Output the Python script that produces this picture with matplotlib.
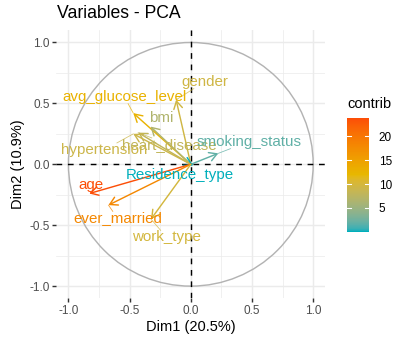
import numpy as np
import matplotlib
matplotlib.use("Agg")
import matplotlib.pyplot as plt
from matplotlib.cm import ScalarMappable
from matplotlib.colors import ListedColormap, Normalize, to_rgb
from matplotlib.patches import Circle, FancyArrowPatch

plt.rcParams['font.family'] = ['Liberation Sans', 'DejaVu Sans']
plt.rcParams['axes.unicode_minus'] = False

# Variable coordinates on the first two principal components
variables = ["gender", "avg_glucose_level", "bmi", "heart_disease", "hypertension",
             "smoking_status", "Residence_type", "age", "ever_married", "work_type"]
dim1 = [-0.12, -0.47, -0.33, -0.43, -0.47, 0.225, 0.02, -0.83, -0.673, -0.325]
dim2 = [0.53, 0.42, 0.31, 0.26, 0.25, 0.09, -0.01, -0.24, -0.335, -0.45]
explained = [20.5, 10.9]  # % of variance per dimension

# Where each (repelled) label ends up, centre of the text
label_pos = {
    "gender": (0.116, 0.679),
    "avg_glucose_level": (-0.544, 0.555),
    "bmi": (-0.245, 0.378),
    "heart_disease": (-0.172, 0.159),
    "hypertension": (-0.707, 0.118),
    "smoking_status": (0.473, 0.186),
    "Residence_type": (-0.086, -0.088),
    "age": (-0.819, -0.170),
    "ever_married": (-0.598, -0.444),
    "work_type": (-0.197, -0.600),
}

gradient_cols = ["#00AFBB", "#E7B800", "#FC4E07"]

# contribution (%) of each variable to the Dim1-Dim2 plane
eig = np.array(explained) / 100 * len(variables)
coords = np.column_stack([dim1, dim2])
contrib = 100 * (coords ** 2).sum(axis=1) / eig.sum()


def srgb_to_lab(rgb):
    rgb = np.asarray(rgb, float)
    lin = np.where(rgb <= 0.04045, rgb / 12.92, ((rgb + 0.055) / 1.055) ** 2.4)
    m = np.array([[0.4124, 0.3576, 0.1805], [0.2126, 0.7152, 0.0722], [0.0193, 0.1192, 0.9505]])
    xyz = lin @ m.T / np.array([0.95047, 1.0, 1.08883])
    d = 6 / 29
    f = np.where(xyz > d ** 3, np.cbrt(xyz), xyz / (3 * d ** 2) + 4 / 29)
    return np.stack([116 * f[..., 1] - 16, 500 * (f[..., 0] - f[..., 1]),
                     200 * (f[..., 1] - f[..., 2])], -1)


def lab_to_srgb(lab):
    d = 6 / 29
    fy = (lab[..., 0] + 16) / 116
    f = np.stack([fy + lab[..., 1] / 500, fy, fy - lab[..., 2] / 200], -1)
    xyz = np.where(f > d, f ** 3, 3 * d ** 2 * (f - 4 / 29)) * np.array([0.95047, 1.0, 1.08883])
    m_inv = np.linalg.inv(np.array([[0.4124, 0.3576, 0.1805], [0.2126, 0.7152, 0.0722],
                                    [0.0193, 0.1192, 0.9505]]))
    lin = xyz @ m_inv.T
    rgb = np.where(lin <= 0.0031308, lin * 12.92, 1.055 * np.clip(lin, 0, None) ** (1 / 2.4) - 0.055)
    return np.clip(rgb, 0, 1)


# three-colour gradient interpolated in Lab space
anchors = srgb_to_lab([to_rgb(c) for c in gradient_cols])
t = np.linspace(0, 1, 256)
stops = np.linspace(0, 1, len(gradient_cols))
lab = np.column_stack([np.interp(t, stops, anchors[:, k]) for k in range(3)])
cmap = ListedColormap(lab_to_srgb(lab))
norm = Normalize(vmin=contrib.min(), vmax=contrib.max())
colors = [cmap(norm(v)) for v in contrib]

W, H = 407, 342
fig = plt.figure(figsize=(W / 96, H / 96), dpi=96)
ax = fig.add_axes([56.2 / W, 43.7 / H, 269.2 / W, 268 / H])
ax.set_xlim(-1.1, 1.1)
ax.set_ylim(-1.1, 1.1)
for s in ax.spines.values():
    s.set_visible(False)

ticks = [-1.0, -0.5, 0.0, 0.5, 1.0]
minor = [-0.75, -0.25, 0.25, 0.75]
ax.set_xticks(ticks)
ax.set_yticks(ticks)
ax.set_xticks(minor, minor=True)
ax.set_yticks(minor, minor=True)
ax.set_xticklabels([f"{v:.1f}" for v in ticks])
ax.set_yticklabels([f"{v:.1f}" for v in ticks])
ax.tick_params(which='major', length=2.75, width=1.07, color='#333333',
               labelsize=8.8, labelcolor='#4D4D4D', pad=2.2)
ax.tick_params(which='minor', length=0)
ax.grid(True, which='major', color='#EBEBEB', lw=1.07, zorder=0)
ax.grid(True, which='minor', color='#EBEBEB', lw=0.53, zorder=0)
ax.set_axisbelow(True)

ax.add_patch(Circle((0, 0), 1, fill=False, color='#B3B3B3', lw=1.07, zorder=1))
ax.axhline(0, color='black', lw=1.07, linestyle=(0, (4, 4)), zorder=2)
ax.axvline(0, color='black', lw=1.07, linestyle=(0, (4, 4)), zorder=2)

# loadings as arrows from the origin
for x, y, c in zip(dim1, dim2, colors):
    arr = FancyArrowPatch((0, 0), (x, y), arrowstyle='->,head_length=5.67,head_width=3.27',
                          mutation_scale=1, shrinkA=0, shrinkB=0, color=c, lw=1.07, zorder=3)
    ax.add_patch(arr)

texts = []
for name, c in zip(variables, colors):
    lx, ly = label_pos[name]
    texts.append(ax.text(lx, ly, name, color=c, fontsize=11.38, ha='center', va='center', zorder=4))

# connector segments between arrow tips and labels that were pushed away
fig.canvas.draw()
renderer = fig.canvas.get_renderer()
for txt, x, y, c in zip(texts, dim1, dim2, colors):
    bb = txt.get_window_extent(renderer)
    tx, ty = ax.transData.transform((x, y))
    cx, cy = (bb.x0 + bb.x1) / 2, (bb.y0 + bb.y1) / 2
    dx, dy = tx - cx, ty - cy
    sx = bb.width / 2 / abs(dx) if dx else np.inf
    sy = bb.height / 2 / abs(dy) if dy else np.inf
    s = min(sx, sy)
    if s >= 1:
        continue
    ex, ey = cx + s * dx, cy + s * dy
    if np.hypot(tx - ex, ty - ey) < 6:
        continue
    (x0, y0), (x1, y1) = ax.transData.inverted().transform([(tx, ty), (ex, ey)])
    ax.plot([x0, x1], [y0, y1], color=c, lw=0.6, alpha=0.8, zorder=3)

ax.set_xlabel(f"Dim1 ({explained[0]}%)", fontsize=11, va='center')
ax.xaxis.set_label_coords(0.5, (298.3 - 326.7) / 268)
ax.set_ylabel(f"Dim2 ({explained[1]}%)", fontsize=11, va='center', ha='center')
ax.yaxis.set_label_coords((18 - 56.2) / 269.2, 0.5)

fig.text(56.7 / W, 1 - 13.3 / H, "Variables - PCA", fontsize=13.2, ha='left', va='center')

# colour bar legend
cax = fig.add_axes([346.7 / W, (H - 231.7) / H, 22.6 / W, 113.4 / H])
cb = fig.colorbar(ScalarMappable(norm=norm, cmap=cmap), cax=cax)
cb.outline.set_visible(False)
cb_ticks = [5, 10, 15, 20]
cb.set_ticks(cb_ticks)
cax.tick_params(length=0, pad=7, labelsize=8.8, labelcolor='black')
for v in cb_ticks:
    cax.plot([0, 0.2], [v, v], color='white', lw=0.8, transform=cax.get_yaxis_transform())
    cax.plot([0.8, 1], [v, v], color='white', lw=0.8, transform=cax.get_yaxis_transform())
fig.text(347.7 / W, 1 - 104 / H, "contrib", fontsize=11, ha='left', va='center')

fig.savefig("out.png", dpi=96)
